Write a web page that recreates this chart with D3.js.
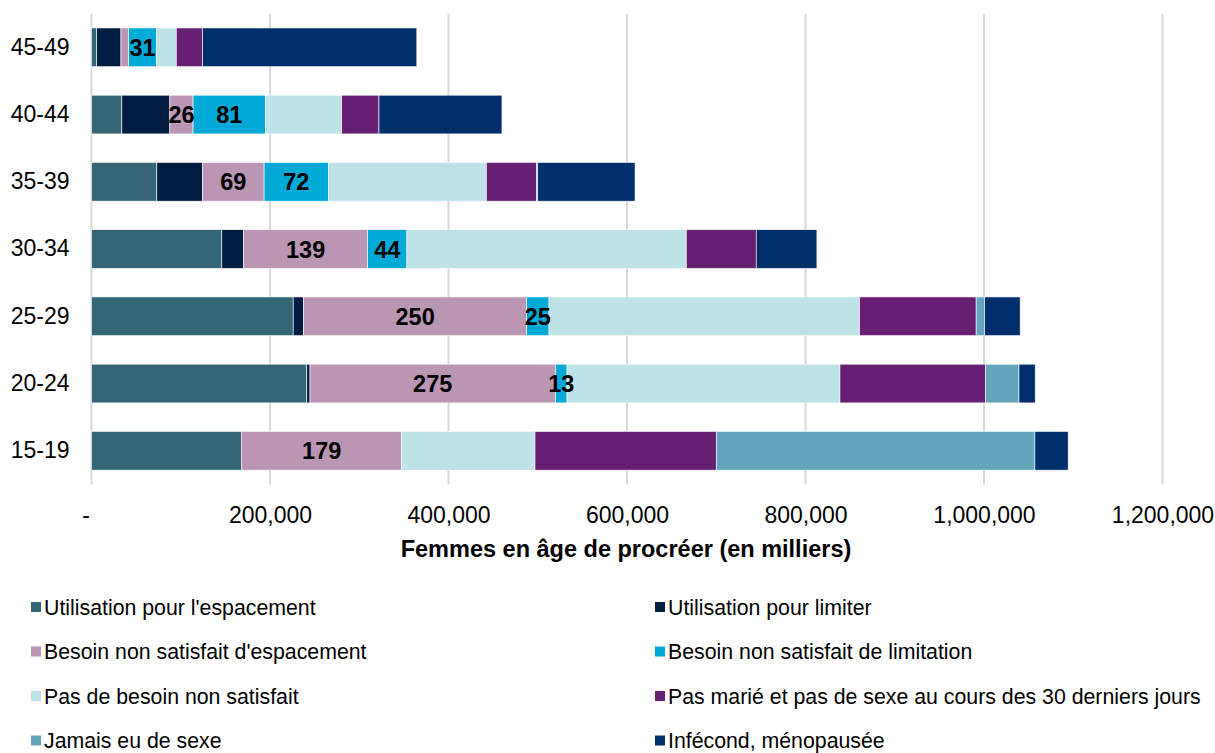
<!DOCTYPE html>
<html>
<head>
<meta charset="utf-8">
<script src="https://cdn.jsdelivr.net/npm/d3@7"></script>
<style>
  body { margin: 0; background: #fff; }
  svg { font-family: "Liberation Sans", Arial, sans-serif; }
</style>
</head>
<body>
<svg width="1215" height="753"></svg>
<script>
// Groupes d'age (du haut vers le bas)
var ages = ["45-49", "40-44", "35-39", "30-34", "25-29", "20-24", "15-19"];

var series = ["Utilisation pour l'espacement", "Utilisation pour limiter",
  "Besoin non satisfait d'espacement", "Besoin non satisfait de limitation",
  "Pas de besoin non satisfait", "Pas marié et pas de sexe au cours des 30 derniers jours",
  "Jamais eu de sexe", "Infécond, ménopausée"];

var colors = ["#356675", "#011d41", "#bb96b4", "#00a9d6", "#bde2e8", "#671f73", "#64a5bc", "#002f6c"];

// valeurs par serie, meme ordre que ages
var utilEspacement = [5800, 34000, 73200, 146000, 226000, 241200, 168400];
var utilLimiter    = [27200, 53800, 51200, 24400, 11600, 3600, 0];
var besoinEsp      = [8600, 26000, 69000, 139000, 250000, 275000, 179000];
var besoinLim      = [31000, 81000, 72000, 44000, 25000, 13000, 0];
var pasBesoin      = [22400, 85500, 177000, 313000, 348000, 305800, 149500];
var pasMarie       = [29500, 41800, 56000, 78400, 130600, 162900, 203100];
var jamaisSexe     = [0, 0, 1600, 0, 9500, 37700, 357000];
var infecond       = [240000, 137800, 109000, 68000, 39800, 18200, 37300];

var xTicks = [0, 200000, 400000, 600000, 800000, 1000000, 1200000];

var allValues = [utilEspacement, utilLimiter, besoinEsp, besoinLim, pasBesoin, pasMarie, jamaisSexe, infecond];
var labelled = [2, 3]; // series qui ont une etiquette

var rows = ages.map(function(a, i) {
    var r = {age: a};
    series.forEach(function(s, j) { r[s] = allValues[j][i]; });
    return r;
});

var stack = d3.stack().keys(series)(rows);

var svg = d3.select('svg');

var xScale = d3.scaleLinear().domain([0, 1200000]).range([91.5, 1162.5]);
var yScale = d3.scaleBand().domain(ages).range([13.7, 484.4]).paddingInner(0.424).paddingOuter(0.212);

// grille
svg.append('g')
   .selectAll('line')
   .data(xTicks)
   .enter()
   .append('line')
   .attr('x1', d=>xScale(d))
   .attr('x2', d=>xScale(d))
   .attr('y1', 13.7)
   .attr('y2', 484.4)
   .attr('stroke', '#d9d9d9')
   .attr('stroke-width', 2);

// barres
var layers = svg.append('g')
   .selectAll('g')
   .data(stack)
   .enter()
   .append('g')
   .attr('fill', (d, i) => colors[i]);

layers.selectAll('rect')
   .data(d => d)
   .enter()
   .append('rect')
   .attr('x', d => xScale(d[0]))
   .attr('y', d => yScale(d.data.age))
   .attr('width', d => xScale(d[1]) - xScale(d[0]))
   .attr('height', yScale.bandwidth())
   .attr('stroke', '#ffffff')
   .attr('stroke-width', 0.6);

// etiquettes (en milliers)
labelled.forEach(function(k) {
    svg.append('g')
       .selectAll('text')
       .data(stack[k].filter(d => d[1] - d[0] >= 10000))
       .enter()
       .append('text')
       .attr('x', d => (xScale(d[0]) + xScale(d[1])) / 2)
       .attr('y', d => yScale(d.data.age) + yScale.bandwidth() / 2)
       .attr('dy', '0.36em')
       .attr('text-anchor', 'middle')
       .attr('font-weight', 'bold')
       .attr('font-size', '23.5px')
       .attr('fill', '#000')
       .text(d => Math.round((d[1] - d[0]) / 1000));
});

// axe x
var xAxis = d3.axisBottom(xScale)
   .tickValues(xTicks)
   .tickSize(0)
   .tickPadding(0)
   .tickFormat(d => d === 0 ? '-' : d3.format(',')(d));

var xAxisGroup = svg.append('g')
   .attr('class', 'xAxis')
   .attr('transform', 'translate(0,507)')
   .call(xAxis);
xAxisGroup.select('.domain').remove();
xAxisGroup.selectAll('text')
   .attr('font-size', '23px')
   .attr('font-family', null)
   .attr('fill', '#000')
   .attr('dx', d => d === 0 ? '-6' : '0');

// axe y
var yAxis = d3.axisLeft(yScale).tickSize(0).tickPadding(22);
var yAxisGroup = svg.append('g')
   .attr('class', 'yAxis')
   .attr('transform', 'translate(91.5,0)')
   .call(yAxis);
yAxisGroup.select('.domain').remove();
yAxisGroup.selectAll('text')
   .attr('font-size', '23px')
   .attr('font-family', null)
   .attr('fill', '#000');

// titre axe
svg.append('text')
   .attr('x', 626)
   .attr('y', 549)
   .attr('dy', '0.36em')
   .attr('text-anchor', 'middle')
   .attr('font-weight', 'bold')
   .attr('font-size', '23.5px')
   .text('Femmes en âge de procréer (en milliers)');

// legende
var legend = svg.append('g')
   .selectAll('g')
   .data(series)
   .enter()
   .append('g')
   .attr('transform', (d, i) => 'translate(' + (i % 2 === 0 ? 31 : 655) + ',' + (607 + Math.floor(i / 2) * 44.5) + ')');

legend.append('rect')
   .attr('x', 0)
   .attr('y', -5)
   .attr('width', 10)
   .attr('height', 10)
   .attr('fill', (d, i) => colors[i]);

legend.append('text')
   .attr('x', 13)
   .attr('y', 0)
   .attr('dy', '0.36em')
   .attr('font-size', '21.3px')
   .text(d => d);
</script>
</body>
</html>
